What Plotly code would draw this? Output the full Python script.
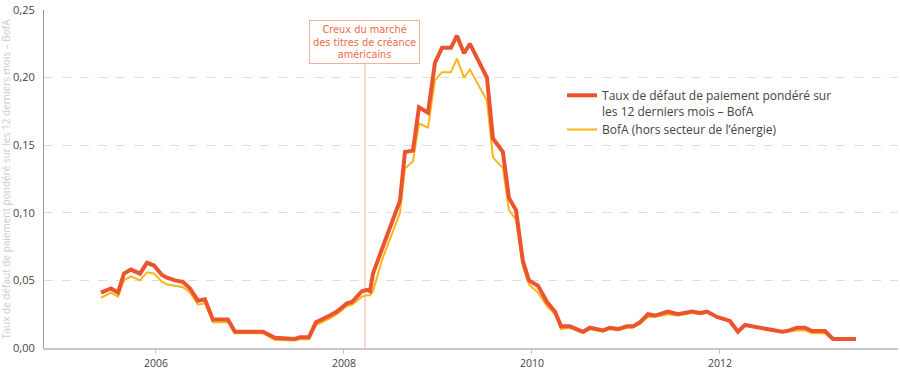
import plotly.graph_objects as go

years = [
    2005.415, 2005.521, 2005.596, 2005.660, 2005.734, 2005.830, 2005.904, 2005.979,
    2006.064, 2006.117, 2006.202, 2006.287, 2006.362, 2006.447, 2006.521, 2006.606,
    2006.766, 2006.840, 2007.138, 2007.266, 2007.479, 2007.532, 2007.628, 2007.702,
    2007.851, 2007.926, 2008.032, 2008.085, 2008.191, 2008.245, 2008.277, 2008.309,
    2008.404, 2008.500, 2008.596, 2008.649, 2008.734, 2008.798, 2008.894, 2008.968,
    2009.043, 2009.138, 2009.202, 2009.277, 2009.340, 2009.521, 2009.585, 2009.691,
    2009.755, 2009.830, 2009.904, 2009.968, 2010.064, 2010.160, 2010.245, 2010.309,
    2010.404, 2010.543, 2010.617, 2010.755, 2010.830, 2010.915, 2011.011, 2011.074,
    2011.149, 2011.234, 2011.309, 2011.447, 2011.553, 2011.702, 2011.787, 2011.862,
    2011.968, 2012.106, 2012.191, 2012.266, 2012.660, 2012.713, 2012.819, 2012.904,
    2012.979, 2013.117, 2013.202, 2013.447,
]

# Taux de défaut de paiement pondéré sur les 12 derniers mois – BofA
bofa_total = [
    0.041, 0.044, 0.041, 0.055, 0.058, 0.055, 0.063, 0.061,
    0.054, 0.052, 0.050, 0.049, 0.044, 0.035, 0.036, 0.021,
    0.021, 0.012, 0.012, 0.0075, 0.0067, 0.008, 0.008, 0.019,
    0.024, 0.027, 0.033, 0.034, 0.042, 0.043, 0.042, 0.055,
    0.073, 0.091, 0.109, 0.145, 0.146, 0.178, 0.174, 0.211,
    0.222, 0.222, 0.231, 0.218, 0.225, 0.200, 0.155, 0.145,
    0.111, 0.102, 0.064, 0.050, 0.046, 0.034, 0.027, 0.016,
    0.016, 0.012, 0.015, 0.013, 0.015, 0.014, 0.016, 0.016,
    0.019, 0.025, 0.024, 0.027, 0.025, 0.027, 0.026, 0.027,
    0.023, 0.020, 0.012, 0.017, 0.012, 0.0125, 0.015, 0.015,
    0.0126, 0.0126, 0.0067, 0.0067,
]

# BofA (hors secteur de l'énergie)
bofa_ex_energy = [
    0.037, 0.041, 0.038, 0.050, 0.053, 0.050, 0.056, 0.055,
    0.049, 0.047, 0.046, 0.045, 0.041, 0.032, 0.033, 0.019,
    0.019, 0.011, 0.011, 0.006, 0.0055, 0.0065, 0.0065, 0.017,
    0.022, 0.025, 0.031, 0.032, 0.038, 0.039, 0.039, 0.042,
    0.065, 0.083, 0.100, 0.133, 0.138, 0.166, 0.163, 0.198,
    0.204, 0.204, 0.214, 0.200, 0.206, 0.183, 0.141, 0.133,
    0.102, 0.095, 0.060, 0.047, 0.041, 0.031, 0.025, 0.014,
    0.015, 0.011, 0.014, 0.012, 0.014, 0.013, 0.015, 0.015,
    0.018, 0.023, 0.023, 0.025, 0.024, 0.026, 0.025, 0.026,
    0.023, 0.020, 0.012, 0.017, 0.012, 0.012, 0.013, 0.013,
    0.011, 0.011, 0.006, 0.006,
]

x_ticks = [2006, 2008, 2010, 2012]
x_tick_labels = ["2006", "2008", "2010", "2012"]
y_ticks = [0.0, 0.05, 0.10, 0.15, 0.20, 0.25]

trough_year = 2008.223
trough_label = "Creux du marché<br>des titres de créance<br>américains"
y_title = "Taux de défaut de paiement pondéré sur les 12 derniers mois – BofA"

series_names = [
    "Taux de défaut de paiement pondéré sur<br>les 12 derniers mois – BofA",
    "BofA (hors secteur de l’énergie)",
]

FONT = "'Open Sans', Lato, sans-serif"
ANN_FONT = "'DejaVu Sans', 'Open Sans', sans-serif"
RED = "#EA5530"
YELLOW = "#FDB515"

fig = go.Figure()
fig.add_trace(go.Scatter(
    x=years, y=bofa_ex_energy, mode="lines", name=series_names[1],
    line=dict(color=YELLOW, width=2), hoverinfo="skip",
))
fig.add_trace(go.Scatter(
    x=years, y=bofa_total, mode="lines", name=series_names[0],
    line=dict(color=RED, width=4), hoverinfo="skip",
))

fig.add_shape(
    type="line", xref="x", yref="paper",
    x0=trough_year, x1=trough_year, y0=0, y1=0.84,
    line=dict(color="#F8C9C0", width=1.5), layer="below",
)
fig.add_annotation(
    x=trough_year, xref="x", y=0.84, yref="paper",
    yanchor="bottom", xanchor="center", showarrow=False,
    text=trough_label, align="center",
    font=dict(family=ANN_FONT, size=9.8, color="#EE6A4A"),
    bgcolor="white", bordercolor="#F4AE9F", borderwidth=1, borderpad=3,
)
# rotated y-axis title, placed at the far left
fig.add_annotation(
    x=0, xref="paper", xshift=-38, y=0.5, yref="paper",
    xanchor="center", yanchor="middle", showarrow=False,
    text=y_title, textangle=-90,
    font=dict(family=FONT, size=10, color="#CCCCCC"),
)

fig.update_layout(
    width=900, height=370,
    margin=dict(l=44, r=2, t=10, b=22, autoexpand=False),
    paper_bgcolor="white", plot_bgcolor="white",
    separators=", ",
    font=dict(family=FONT, size=11, color="#444444"),
    showlegend=True,
    legend=dict(
        x=0.6066, y=0.79, xanchor="left", yanchor="top",
        traceorder="reversed", valign="top",
        font=dict(family=FONT, size=12, color="#444444"),
        bgcolor="rgba(0,0,0,0)", tracegroupgap=0,
    ),
    xaxis=dict(
        range=[2004.809, 2013.894], automargin=False,
        tickvals=x_ticks, ticktext=x_tick_labels,
        showgrid=False, zeroline=False,
        showline=True, linecolor="#C8C8C8", linewidth=2,
        ticks="outside", ticklen=4, tickcolor="#C8C8C8",
        tickfont=dict(family=FONT, size=10.5, color="#444444"),
    ),
    yaxis=dict(
        range=[0, 0.25], tickvals=y_ticks, tickformat=".2f", automargin=False,
        showgrid=True, gridcolor="#DDDDDD", griddash="dash", gridwidth=1,
        zeroline=False, showline=True, linecolor="#999999", linewidth=1,
        ticks="", ticklabelstandoff=6, ticklabeloverflow="allow",
        tickfont=dict(family=FONT, size=11, color="#444444"),
    ),
)

fig.write_html(
    "out.html",
    config={"displayModeBar": False},
    post_script="document.body.style.margin='0';document.body.style.overflow='hidden';",
)
